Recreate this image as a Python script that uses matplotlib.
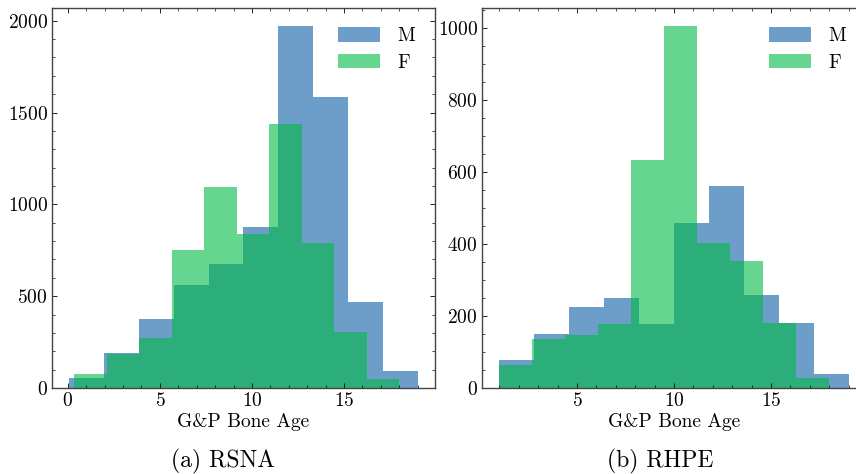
import numpy as np
import matplotlib
matplotlib.use("Agg")
from matplotlib import pyplot as plt
from matplotlib.ticker import MultipleLocator

# Computer Modern look, like a LaTeX figure
plt.rcParams['font.family'] = ['cmr10', 'DejaVu Serif']
plt.rcParams['mathtext.fontset'] = 'cm'
plt.rcParams['axes.formatter.use_mathtext'] = True
plt.rcParams['font.size'] = 14

# RSNA histogram (bin edges in years, counts)
rsna_m_edges = np.linspace(1 / 12, 19, 11)
rsna_m_counts = [54, 190, 374, 560, 674, 876, 1971, 1584, 467, 93]
rsna_f_edges = np.linspace(4 / 12, 18, 11)
rsna_f_counts = [74, 185, 272, 750, 1094, 837, 1437, 788, 303, 47]

# RHPE histogram
rhpe_m_edges = np.linspace(1, 19, 11)
rhpe_m_counts = [77, 149, 224, 250, 177, 458, 561, 258, 180, 40]
rhpe_f_edges = np.linspace(1, 18, 11)
rhpe_f_counts = [63, 135, 147, 177, 634, 1006, 403, 353, 180, 28]

blue = '#0C5DA5'
green = '#00B945'

fig = plt.figure(figsize=(8.56, 4.74), dpi=100)
ax1 = fig.add_axes([52 / 856, 86 / 474, 383 / 856, 380 / 474])
ax2 = fig.add_axes([482 / 856, 86 / 474, 384 / 856, 380 / 474])

panels = [
    (ax1, rsna_m_edges, rsna_m_counts, rsna_f_edges, rsna_f_counts, 500, 100),
    (ax2, rhpe_m_edges, rhpe_m_counts, rhpe_f_edges, rhpe_f_counts, 200, 50),
]

for ax, me, mc, fe, fc, ymaj, ymin in panels:
    ax.hist(me[:-1], bins=me, weights=mc, color=blue, alpha=0.6, label='M')
    ax.hist(fe[:-1], bins=fe, weights=fc, color=green, alpha=0.6, label='F')
    ax.set_xlabel('G&P Bone Age', labelpad=2)
    ax.xaxis.set_major_locator(MultipleLocator(5))
    ax.xaxis.set_minor_locator(MultipleLocator(1))
    ax.yaxis.set_major_locator(MultipleLocator(ymaj))
    ax.yaxis.set_minor_locator(MultipleLocator(ymin))
    ax.tick_params(which='both', direction='in', top=True, right=True)
    ax.tick_params(which='major', length=3.5, width=0.6, pad=3)
    ax.tick_params(which='minor', length=2, width=0.5)
    for s in ax.spines.values():
        s.set_linewidth(1.0)
        s.set_color('#444444')
    ax.legend(loc='upper right', frameon=False, handlelength=2.2, handleheight=0.75,
              labelspacing=0.45, handletextpad=0.9, borderaxespad=0.6)

fig.text(223 / 856, 1 - 461 / 474, '(a) RSNA', ha='center', va='center', fontsize=17)
fig.text(660 / 856, 1 - 461 / 474, '(b) RHPE', ha='center', va='center', fontsize=17)

fig.savefig('out.png', dpi=100)
